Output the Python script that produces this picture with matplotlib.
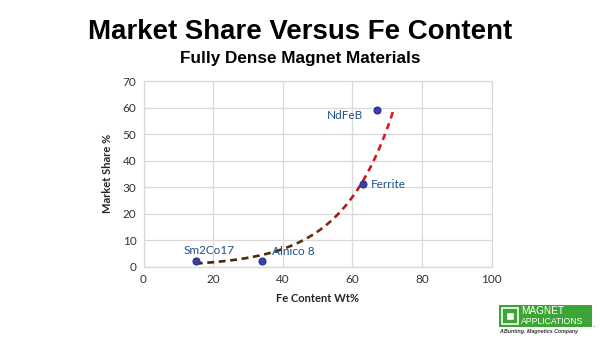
import numpy as np
import matplotlib
matplotlib.use("Agg")
import matplotlib.pyplot as plt
from matplotlib.collections import LineCollection
from matplotlib.patches import Rectangle
from matplotlib.colors import LinearSegmentedColormap

# ---- data ----
materials = ["Sm2Co17", "Alnico 8", "Ferrite", "NdFeB"]
fe_content = [15, 34, 63, 67]
market_share = [2, 2, 31, 59]
trend_range = [15, 72]
x_ticks = [0, 20, 40, 60, 80, 100]
y_ticks = [0, 10, 20, 30, 40, 50, 60, 70]

W, H = 600, 338
fig = plt.figure(figsize=(6, 3.38), dpi=100)
fig.patch.set_facecolor("white")

# axes in pixel coords
x0, x1 = 143.5, 491.7
y0, y1 = 266.7, 81.0
ax = fig.add_axes([x0 / W, 1 - y0 / H, (x1 - x0) / W, (y0 - y1) / H])
ax.set_xlim(0, 100)
ax.set_ylim(0, 70)
ax.set_xticks(x_ticks)
ax.set_yticks(y_ticks)
ax.grid(True, color="#d9d9d9", linewidth=0.9)
ax.set_axisbelow(True)
for s in ax.spines.values():
    s.set_color("#d9d9d9")
    s.set_linewidth(0.9)
ax.tick_params(length=0, labelsize=8.5, labelcolor="#333333", pad=5)
for lab in ax.get_xticklabels() + ax.get_yticklabels():
    lab.set_fontfamily("Lato")
ax.set_xlabel("Fe Content Wt%", fontsize=8, fontweight="bold", family="Lato",
              color="#262626", labelpad=6)
ax.set_ylabel("Market Share %", fontsize=8, fontweight="bold", family="Lato",
              color="#262626", labelpad=7)

# exponential trendline fitted to the data
b, lna = np.polyfit(fe_content, np.log(market_share), 1)
xt = np.linspace(trend_range[0], trend_range[1], 1200)
yt = np.exp(lna) * np.exp(b * xt)

# build dashed gradient polylines in display space
fig.canvas.draw()
pts = ax.transData.transform(np.column_stack([xt, yt]))
seg_len = np.hypot(np.diff(pts[:, 0]), np.diff(pts[:, 1]))
cum = np.concatenate([[0], np.cumsum(seg_len)])
dash_on, dash_off = 7.0, 4.5
period = dash_on + dash_off
phase = np.floor(cum / period).astype(int)
on = (cum % period) < dash_on
cmap = LinearSegmentedColormap.from_list("tr", ["#3e2a05", "#54300a", "#b02016", "#f01515"])
segs, cols = [], []
for k in np.unique(phase):
    idx = np.where((phase == k) & on)[0]
    if len(idx) < 2:
        continue
    segs.append(np.column_stack([xt[idx], yt[idx]]))
    t = (xt[idx].mean() - trend_range[0]) / (trend_range[1] - trend_range[0])
    cols.append(cmap(t ** 1.6))
lc = LineCollection(segs, colors=cols, linewidths=1.9, capstyle="butt", zorder=3)
ax.add_collection(lc)

ax.scatter(fe_content, market_share, s=26, color="#3b40a8", edgecolor="#262a78",
           linewidth=0.7, zorder=4)

label_offsets = {"Sm2Co17": (-9, 8, "left"), "Alnico 8": (7, 7, "left"),
                 "Ferrite": (6, 0, "left"), "NdFeB": (-10, -4, "right")}
for name, xv, yv in zip(materials, fe_content, market_share):
    dx, dy, ha = label_offsets[name]
    ax.annotate(name, (xv, yv), xytext=(dx, dy), textcoords="offset points",
                ha=ha, va="center", fontsize=8.5, family="Lato", color="#1f4e8c", zorder=5)

# titles
fig.text(300 / W, 1 - 32 / H, "Market Share Versus Fe Content", ha="center", va="center",
         fontsize=19.9, fontweight="bold", family="Liberation Sans", color="black")
fig.text(300 / W, 1 - 59 / H, "Fully Dense Magnet Materials", ha="center", va="center",
         fontsize=12.3, fontweight="bold", family="Liberation Sans", color="black")

# logo
def px(x, y):
    return x / W, 1 - y / H

lx0, ly0, lx1, ly1 = 499, 305, 592, 327
fig.patches.append(Rectangle(px(lx0, ly1), (lx1 - lx0) / W, (ly1 - ly0) / H,
                             transform=fig.transFigure, facecolor="#3da535",
                             edgecolor="none"))
fig.patches.append(Rectangle(px(502, 324), 16 / W, 16 / H, transform=fig.transFigure,
                             facecolor="none", edgecolor="white", linewidth=1.2))
fig.patches.append(Rectangle(px(506, 320), 8 / W, 8 / H, transform=fig.transFigure,
                             facecolor="white", edgecolor="#3da535", linewidth=1.0))
fig.text(*px(521, 311), "MAGNET", ha="left", va="center", fontsize=7.2,
         family="Liberation Sans", color="white")
fig.text(*px(521, 321), "APPLICATIONS", ha="left", va="center", fontsize=6.2,
         family="Liberation Sans", color="white")
fig.text(*px(592, 324), ".", ha="left", va="center", fontsize=7,
         family="Liberation Sans", color="#333333")
fig.text(*px(499, 332), "A Bunting. Magnetics Company", ha="left", va="center",
         fontsize=3.8, fontweight="bold", fontstyle="italic",
         family="Liberation Sans", color="#333333")

fig.savefig("out.png", dpi=100, facecolor="white")
